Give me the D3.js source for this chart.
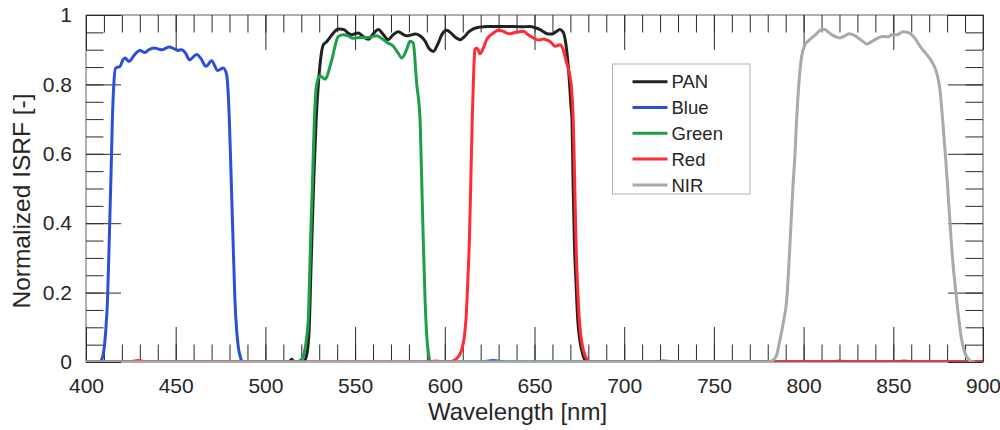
<!DOCTYPE html>
<html><head><meta charset="utf-8">
<script src="https://cdn.jsdelivr.net/npm/d3@7"></script>
<style>
html,body{margin:0;padding:0;background:#fff;}
svg{display:block;font-family:"Liberation Sans",Arial,Helvetica,sans-serif;}
</style></head>
<body>
<svg id="chart" width="1000" height="430"></svg>
<script>
// ---- data (wavelength nm, normalized ISRF) ----
const seriesNames = ["PAN", "Blue", "Green", "Red", "NIR"];
const seriesColors = ["#222222", "#2b50d8", "#1e9e4b", "#ff2b36", "#a9a9a9"];

const panWl  = [400,460,500,513,514.7,516,520,522,523,524,524.6,525.3,526,527,528.3,529.5,530.5,532.3,534,535.1,537.9,540.6,542.5,544.4,546,548.1,550,551.8,554,557.4,560,563,565.5,568.5,571,574.1,576.5,578.7,581,583.4,586.2,589,591,593.6,596,598.5,601,603.5,606,608.5,611,613.5,615.9,619.6,624,628.9,633,638.2,643,647.5,650.5,653.1,655.5,657.7,660,662,664.2,666,667.9,669.3,670.3,670.9,671.5,672.2,673.2,674.1,675.2,676.3,677.5,679,700,800,900];
const panVal = [0,0,0,0,0.008,0,0,0.005,0.02,0.06,0.12,0.25,0.37,0.53,0.698,0.8,0.86,0.914,0.922,0.929,0.948,0.96,0.959,0.956,0.948,0.943,0.946,0.948,0.94,0.93,0.945,0.958,0.945,0.929,0.942,0.952,0.945,0.94,0.942,0.945,0.94,0.925,0.905,0.895,0.915,0.945,0.956,0.948,0.935,0.929,0.938,0.952,0.96,0.965,0.967,0.967,0.967,0.967,0.966,0.967,0.963,0.958,0.95,0.945,0.945,0.952,0.958,0.95,0.9,0.82,0.74,0.698,0.52,0.352,0.22,0.122,0.065,0.035,0.012,0,0,0,0];

const blueWl  = [400,405,407.5,409,410,411,412,413,414,414.7,415.5,416.5,419,420.5,421.7,424,427,430,432.9,435,437.9,442.2,446.4,449,451.4,453.3,455.5,457.6,461.7,464,466.9,470,473.4,476.5,478.4,479.2,479.9,480.8,481.8,483,484,485,486,487.5,500,620,627,634,700,715,722,729,800,815,820,825,850,856,862,900];
const blueVal = [0,0,0,0.01,0.035,0.09,0.18,0.36,0.55,0.698,0.8,0.847,0.852,0.87,0.876,0.866,0.885,0.898,0.892,0.9,0.905,0.9,0.908,0.903,0.898,0.9,0.89,0.871,0.886,0.875,0.852,0.868,0.84,0.847,0.828,0.78,0.698,0.55,0.38,0.18,0.09,0.04,0.015,0,0,0,0.004,0,0,0,0.003,0,0,0,0.003,0,0,0.003,0,0];

const greenWl  = [400,500,517,519,521,522,523,523.9,524.6,525.2,526.3,527.3,528.3,529.5,530.4,531.8,533.2,534.5,536,537.5,538.8,540.6,543.4,546,549,552,556.4,559,562,565.7,568,571.3,574,576,578.7,580.6,582.4,584.3,586.2,587,588,589,590,591,592,700,900];
const greenVal = [0,0,0,0.003,0.015,0.035,0.07,0.122,0.24,0.352,0.53,0.698,0.79,0.818,0.825,0.82,0.815,0.825,0.852,0.88,0.91,0.938,0.943,0.94,0.933,0.935,0.935,0.937,0.94,0.929,0.92,0.91,0.89,0.876,0.9,0.924,0.919,0.804,0.698,0.55,0.35,0.18,0.07,0.02,0,0,0];

const redWl  = [400,424,429,434,500,590,595,600,602,605,607,609.4,610.8,611.8,612.8,613.7,614.5,615.3,616,616.8,617.7,618.7,619.6,621.5,623.3,625,627,629.8,632.6,634.5,636.3,638,640,643.8,646.5,649,651.2,653,654.9,656.8,658.6,660,661.4,662.8,664.2,666,667.9,669.8,670.8,671.6,672.4,673.1,674,675,676,677.2,679,680.9,700,800,900];
const redVal = [0,0,0.004,0,0,0,0.003,0,0,0.004,0.012,0.035,0.07,0.122,0.23,0.352,0.52,0.698,0.82,0.9,0.905,0.898,0.888,0.905,0.929,0.94,0.948,0.956,0.953,0.948,0.946,0.948,0.95,0.953,0.943,0.935,0.929,0.928,0.931,0.928,0.924,0.917,0.91,0.912,0.914,0.9,0.862,0.823,0.78,0.698,0.52,0.352,0.22,0.122,0.07,0.035,0.01,0,0,0,0];

const nirWl  = [400,600,780,783,785,786.8,789,790.6,792,793,794,795.2,796.1,797.2,798.9,800.7,802.5,804.5,807,810.1,811.9,813.5,815.7,818,820.3,823,825.5,828,830.5,833,835.2,837.5,839.8,842,844.4,847.2,849.1,851.9,855.6,858,860.3,862.5,864.9,868,871.4,874.2,876,877.5,879,881,883,885.3,888.1,890,892,894,895];
const nirVal = [0,0,0,0.005,0.02,0.064,0.122,0.18,0.3,0.4,0.5,0.6,0.698,0.79,0.881,0.914,0.925,0.934,0.945,0.958,0.958,0.952,0.943,0.937,0.934,0.94,0.946,0.942,0.934,0.924,0.916,0.922,0.929,0.935,0.938,0.937,0.943,0.943,0.952,0.95,0.943,0.93,0.91,0.89,0.866,0.833,0.785,0.698,0.6,0.45,0.3,0.18,0.064,0.025,0.008,0,0];

const xMajorTicks = [400,450,500,550,600,650,700,750,800,850,900];
const yMajorTicks = [0,0.2,0.4,0.6,0.8,1];
const xLabel = "Wavelength [nm]";
const yLabel = "Normalized ISRF [-]";

// ---- layout ----
const svg = d3.select("#chart");
const M = {left:86, top:15};
const W = 983 - 86, H = 362 - 15;
const g = svg.append("g").attr("transform", `translate(${M.left},${M.top})`);

const x = d3.scaleLinear().domain([400,900]).range([0,W]);
const y = d3.scaleLinear().domain([0,1]).range([H,0]);

const xMinor = d3.range(400,901,10);
const yMinor = d3.range(0,1.0001,0.05).map(v=>+v.toFixed(2));
const MAJ = 35, MIN = 17.5;
const tickColor = "#2a2a2a";

// frame (under the curves)
g.append("rect").attr("x",0).attr("y",0).attr("width",W).attr("height",H)
  .attr("fill","none").attr("stroke","#7a7a7a").attr("stroke-width",1.2);

function styleAxis(sel){
  sel.select(".domain").remove();
  sel.selectAll(".tick line").attr("stroke", tickColor).attr("stroke-width",1);
}
// minor ticks (all sides)
g.append("g").attr("transform",`translate(0,${H})`).call(d3.axisBottom(x).tickValues(xMinor).tickSize(-MIN).tickFormat("")).call(styleAxis);
g.append("g").call(d3.axisTop(x).tickValues(xMinor).tickSize(-MIN).tickFormat("")).call(styleAxis);
g.append("g").call(d3.axisLeft(y).tickValues(yMinor).tickSize(-MIN).tickFormat("")).call(styleAxis);
g.append("g").attr("transform",`translate(${W},0)`).call(d3.axisRight(y).tickValues(yMinor).tickSize(-MIN).tickFormat("")).call(styleAxis);
// major ticks
const fmtY = d => d===0 ? "0" : d===1 ? "1" : d.toFixed(1);
const xAxis = g.append("g").attr("transform",`translate(0,${H})`)
  .call(d3.axisBottom(x).tickValues(xMajorTicks).tickSize(-MAJ).tickPadding(16).tickFormat(d3.format("d"))).call(styleAxis);
g.append("g").call(d3.axisTop(x).tickValues(xMajorTicks).tickSize(-MAJ).tickFormat("")).call(styleAxis);
const yAxis = g.append("g")
  .call(d3.axisLeft(y).tickValues(yMajorTicks).tickSize(-MAJ).tickPadding(14).tickFormat(fmtY)).call(styleAxis);
g.append("g").attr("transform",`translate(${W},0)`).call(d3.axisRight(y).tickValues(yMajorTicks).tickSize(-MAJ).tickFormat("")).call(styleAxis);

[xAxis,yAxis].forEach(a=>a.selectAll("text").attr("font-size",21).attr("fill","#262626").attr("font-family","'Liberation Sans',Arial,sans-serif"));

// clip for lines
svg.append("defs").append("clipPath").attr("id","clip").append("rect").attr("x",0).attr("y",-5).attr("width",W).attr("height",H+5);

const seriesData = [
  panWl.map((w,i)=>[w,panVal[i]]),
  blueWl.map((w,i)=>[w,blueVal[i]]),
  greenWl.map((w,i)=>[w,greenVal[i]]),
  redWl.map((w,i)=>[w,redVal[i]]),
  nirWl.map((w,i)=>[w,nirVal[i]])
];
const line = d3.line().x(d=>x(d[0])).y(d=>y(d[1])).curve(d3.curveMonotoneX);
const lines = g.append("g").attr("clip-path","url(#clip)");
seriesData.forEach((d,i)=>{
  lines.append("path").datum(d).attr("d",line).attr("fill","none")
    .attr("stroke",seriesColors[i]).attr("stroke-width",3).attr("stroke-linejoin","round").attr("stroke-linecap","round");
});

// axis labels
svg.append("text").attr("x",517.5).attr("y",419.5).attr("text-anchor","middle")
  .attr("font-size",24).attr("fill","#262626").text(xLabel);
svg.append("text").attr("transform",`translate(29.5,201) rotate(-90)`).attr("text-anchor","middle")
  .attr("font-size",24.5).attr("fill","#262626").text(yLabel);

// legend
const lg = svg.append("g").attr("transform","translate(612.5,64)");
lg.append("rect").attr("width",137.5).attr("height",130).attr("fill","#fff").attr("stroke","#b0b0b0").attr("stroke-width",1);
seriesNames.forEach((n,i)=>{
  const yy = 17.7 + i*25.8;
  lg.append("line").attr("x1",20).attr("x2",55).attr("y1",yy).attr("y2",yy).attr("stroke",seriesColors[i]).attr("stroke-width",3);
  lg.append("text").attr("x",59).attr("y",yy).attr("dy","0.36em").attr("font-size",18.5).attr("fill","#262626").text(n);
});
</script>
</body></html>
